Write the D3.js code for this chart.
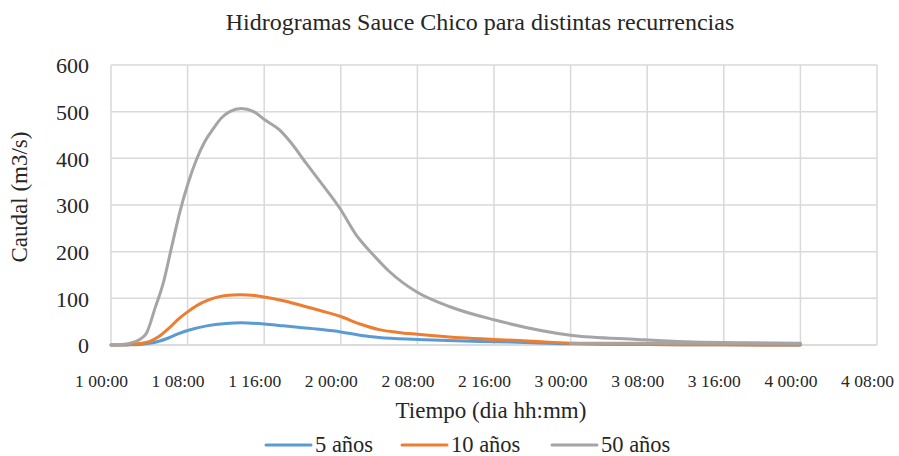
<!DOCTYPE html>
<html><head><meta charset="utf-8">
<script src="https://cdn.jsdelivr.net/npm/d3@7"></script>
<style>body{margin:0;background:#fff}svg{display:block}</style>
</head><body><svg id="c" width="899" height="456"></svg>
<script>
const title = "Hidrogramas Sauce Chico para distintas recurrencias";
const yTitle = "Caudal (m3/s)";
const xTitle = "Tiempo (dia hh:mm)";
const xTicks = [0, 8, 16, 24, 32, 40, 48, 56, 64, 72, 80]; // hours from 1 00:00
const xTickLabels = ["1 00:00","1 08:00","1 16:00","2 00:00","2 08:00","2 16:00","3 00:00","3 08:00","3 16:00","4 00:00","4 08:00"];
const yTicks = [0, 100, 200, 300, 400, 500, 600];
const seriesNames = ["5 años", "10 años", "50 años"];
const colors = ["#5b9bd5", "#ed7d31", "#a5a5a5"];

const hours5 = [0,2,3,4,5,6,7,8,10,12,13.6,16,18,20,22,24,26,28,32,36,40,44,48,56,64,72];
const flow5  = [0,0.3,1,3.5,8,15,24,31,41,46,47.5,45,41,37,33,28,21,16,12,9,7,5,2.5,1,0.5,0];
const hours10 = [0,2,3,4,5,6,7,8,9,10,11,12,13.5,15,16,18,20,22,24,26,28,30,32,36,40,44,48,56,64,72];
const flow10  = [0,1,3,7,18,35,55,71,85,95,102,106,107.5,106,103,95,84,73,61,45,33,27,23,16,12,8,4,1,0.5,0];
const hours50 = [0,1,2,3,3.7,4.6,5.5,6.3,7.2,8.1,8.9,9.8,10.7,11.5,12.4,13.6,14.9,16.1,17.6,18.7,20.4,22.1,23.9,25.6,27.4,29.1,31.9,35.4,40,48,55,60,66,72];
const flow50  = [0,1,4,12,25,79,136,207,286,350,396,436,464,486,500,507,500,482,461,436,389,343,293,236,193,157,114,82,54,21,12,7,5,3];
// near-zero trailing segment of the 50-year series
const hours50b = [48, 60, 72];
const flow50b  = [3.5, 3.5, 3.5];

const FONT = "'Liberation Serif','Times New Roman',Times,serif";
const svg = d3.select("#c");
const m = {l:111, r:877, t:65, b:345};
const x = d3.scaleLinear().domain([0,80]).range([m.l, m.r]);
const y = d3.scaleLinear().domain([0,600]).range([m.b, m.t]);

function txt(sel, size){ return sel.style("font-family", FONT).style("font-size", size+"px").attr("fill","#262626"); }

// title
txt(svg.append("text").attr("x", 480).attr("y", 30).attr("text-anchor","middle").text(title), 24);

// gridlines
svg.append("g").selectAll("line").data(yTicks).join("line")
  .attr("x1", m.l).attr("x2", m.r).attr("y1", d=>y(d)).attr("y2", d=>y(d))
  .attr("stroke", d=>d===0?"#d0d0d0":"#d9d9d9").attr("stroke-width", 1.5);
svg.append("g").selectAll("line").data(xTicks).join("line")
  .attr("y1", m.t).attr("y2", m.b).attr("x1", d=>x(d)).attr("x2", d=>x(d))
  .attr("stroke","#d9d9d9").attr("stroke-width", 1.5);

// y axis labels
const yAxis = svg.append("g").attr("transform", `translate(${m.l},0)`)
  .call(d3.axisLeft(y).tickValues(yTicks).tickSize(0).tickPadding(22));
yAxis.select(".domain").remove();
txt(yAxis.selectAll("text"), 22).attr("dy","0.35em");

// x axis labels
const xAxis = svg.append("g").attr("transform", `translate(0,${m.b})`)
  .call(d3.axisBottom(x).tickValues(xTicks).tickSize(0).tickPadding(0).tickFormat((d,i)=>xTickLabels[i]));
xAxis.select(".domain").remove();
txt(xAxis.selectAll("text"), 17.5).attr("dx", -10).attr("y", 0).attr("dy", "42");

// axis titles
txt(svg.append("text").attr("transform","translate(27,197) rotate(-90)").attr("text-anchor","middle").text(yTitle), 23);
txt(svg.append("text").attr("x", 491).attr("y", 418).attr("text-anchor","middle").text(xTitle), 23);

// lines
const line = d3.line().x(d=>x(d[0])).y(d=>y(d[1])).curve(d3.curveMonotoneX);
const segs = [
  {h:hours5, v:flow5, c:0},
  {h:hours10, v:flow10, c:1},
  {h:hours50b, v:flow50b, c:2},
  {h:hours50, v:flow50, c:2}
];
svg.append("g").selectAll("path").data(segs).join("path")
  .attr("d", s => line(s.h.map((h,i)=>[h, s.v[i]])))
  .attr("fill","none").attr("stroke", s=>colors[s.c]).attr("stroke-width", 3)
  .attr("stroke-linecap","round").attr("stroke-linejoin","round");

// legend
const legX = [266, 402, 552];
const lg = svg.append("g").selectAll("g").data(seriesNames).join("g")
  .attr("transform", (d,i)=>`translate(${legX[i]},445)`);
lg.append("line").attr("x1",0).attr("x2",45).attr("y1",0).attr("y2",0)
  .attr("stroke",(d,i)=>colors[i]).attr("stroke-width",3).attr("stroke-linecap","round");
txt(lg.append("text").attr("x",49).attr("y",0).attr("dy","0.33em").text(d=>d), 22.5);
</script></body></html>
